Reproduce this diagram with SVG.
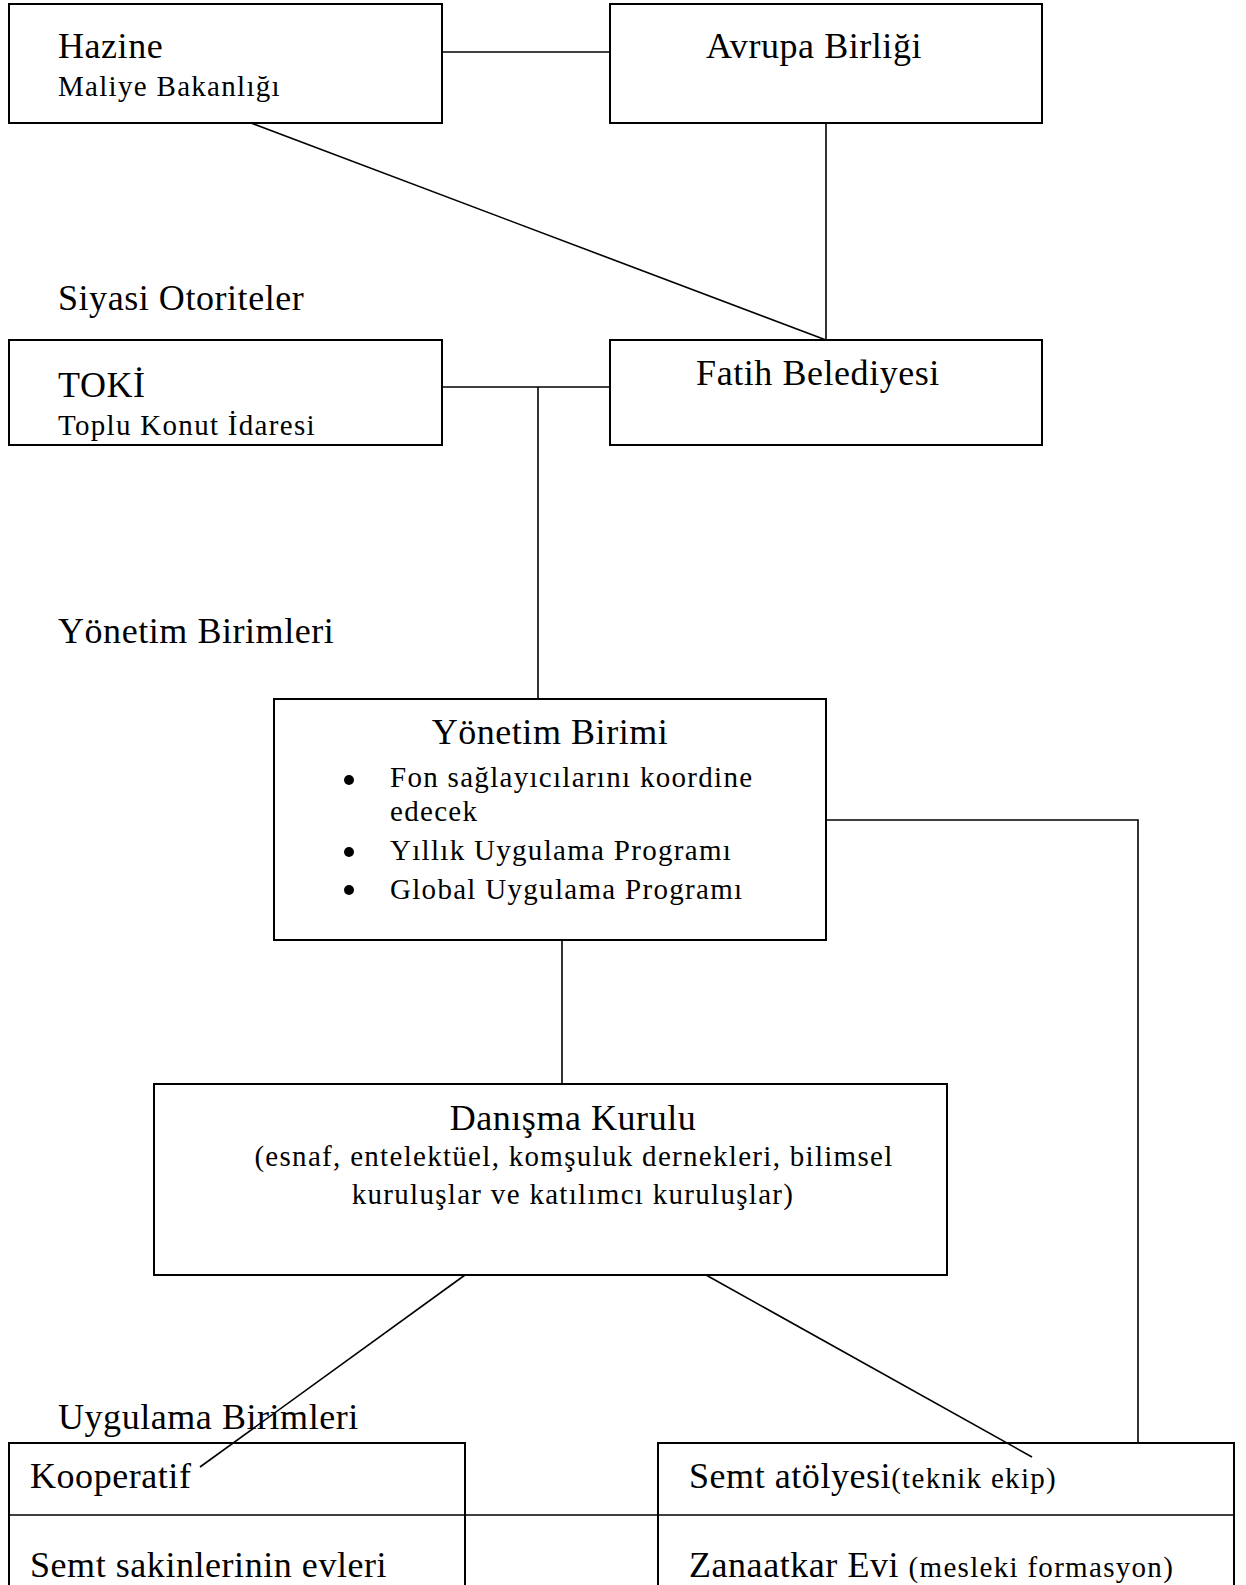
<svg xmlns="http://www.w3.org/2000/svg" width="1246" height="1585" viewBox="0 0 1246 1585">
<style>
.box{fill:#fff;stroke:#000;stroke-width:2}
.ln{fill:none;stroke:#000;stroke-width:1.6}
text{font-family:"Liberation Serif","Times New Roman",serif;fill:#000}
.t1{font-size:36px;letter-spacing:0.55px}
.t2{font-size:29px;letter-spacing:1.3px}
.mid{text-anchor:middle}
</style>
<rect width="1246" height="1585" fill="#fff"/>
<g id="connectors">
<line class="ln" x1="442" y1="52" x2="610" y2="52"/>
<line class="ln" x1="251" y1="123" x2="826" y2="340"/>
<line class="ln" x1="826" y1="123" x2="826" y2="340"/>
<line class="ln" x1="442" y1="387" x2="610" y2="387"/>
<line class="ln" x1="538" y1="387" x2="538" y2="699"/>
<polyline class="ln" points="826,820 1138,820 1138,1468"/>
<line class="ln" x1="562" y1="940" x2="562" y2="1084"/>
</g>
<g id="hazine">
<rect class="box" x="9" y="4" width="433" height="119"/>
<text class="t1" x="58" y="58">Hazine</text>
<text class="t2" x="58" y="96">Maliye Bakanlığı</text>
</g>
<g id="avrupa">
<rect class="box" x="610" y="4" width="432" height="119"/>
<text class="t1 mid" x="814" y="58">Avrupa Birliği</text>
</g>
<text id="siyasi" class="t1" x="58" y="310">Siyasi Otoriteler</text>
<g id="toki">
<rect class="box" x="9" y="340" width="433" height="105"/>
<text class="t1" x="58" y="397">TOKİ</text>
<text class="t2" x="58" y="435">Toplu Konut İdaresi</text>
</g>
<g id="fatih">
<rect class="box" x="610" y="340" width="432" height="105"/>
<text class="t1 mid" x="818" y="385">Fatih Belediyesi</text>
</g>
<text id="yonetim-label" class="t1" x="58" y="643">Yönetim Birimleri</text>
<g id="yonetim">
<rect class="box" x="274" y="699" width="552" height="241"/>
<text class="t1 mid" x="550" y="744">Yönetim Birimi</text>
<circle cx="349" cy="780" r="5"/>
<circle cx="349" cy="852" r="5"/>
<circle cx="349" cy="890" r="5"/>
<text class="t2" x="390" y="787">Fon sağlayıcılarını koordine</text>
<text class="t2" x="390" y="821">edecek</text>
<text class="t2" x="390" y="860">Yıllık Uygulama Programı</text>
<text class="t2" x="390" y="899">Global Uygulama Programı</text>
</g>
<g id="danisma">
<rect class="box" x="154" y="1084" width="793" height="191"/>
<text class="t1 mid" x="573" y="1130">Danışma Kurulu</text>
<text class="t2 mid" x="574" y="1166">(esnaf, entelektüel, komşuluk dernekleri, bilimsel</text>
<text class="t2 mid" x="573" y="1204">kuruluşlar ve katılımcı kuruluşlar)</text>
</g>
<text id="uygulama-label" class="t1" x="58" y="1429">Uygulama Birimleri</text>
<g id="bottom-left">
<rect class="box" x="9" y="1443" width="456" height="160"/>
<text class="t1" x="30" y="1488">Kooperatif</text>
<text class="t1" x="30" y="1577">Semt sakinlerinin evleri</text>
</g>
<g id="bottom-right">
<rect class="box" x="658" y="1443" width="576" height="160"/>
<text class="t1" x="689" y="1488">Semt atölyesi<tspan class="t2">(teknik ekip)</tspan></text>
<text class="t1" x="689" y="1577">Zanaatkar Evi <tspan class="t2">(mesleki formasyon)</tspan></text>
</g>
<g id="connectors-bottom">
<line class="ln" x1="9" y1="1515" x2="1234" y2="1515"/>
<line class="ln" x1="465" y1="1275" x2="200" y2="1467"/>
<line class="ln" x1="706" y1="1275" x2="1032" y2="1457"/>
</g>
</svg>
